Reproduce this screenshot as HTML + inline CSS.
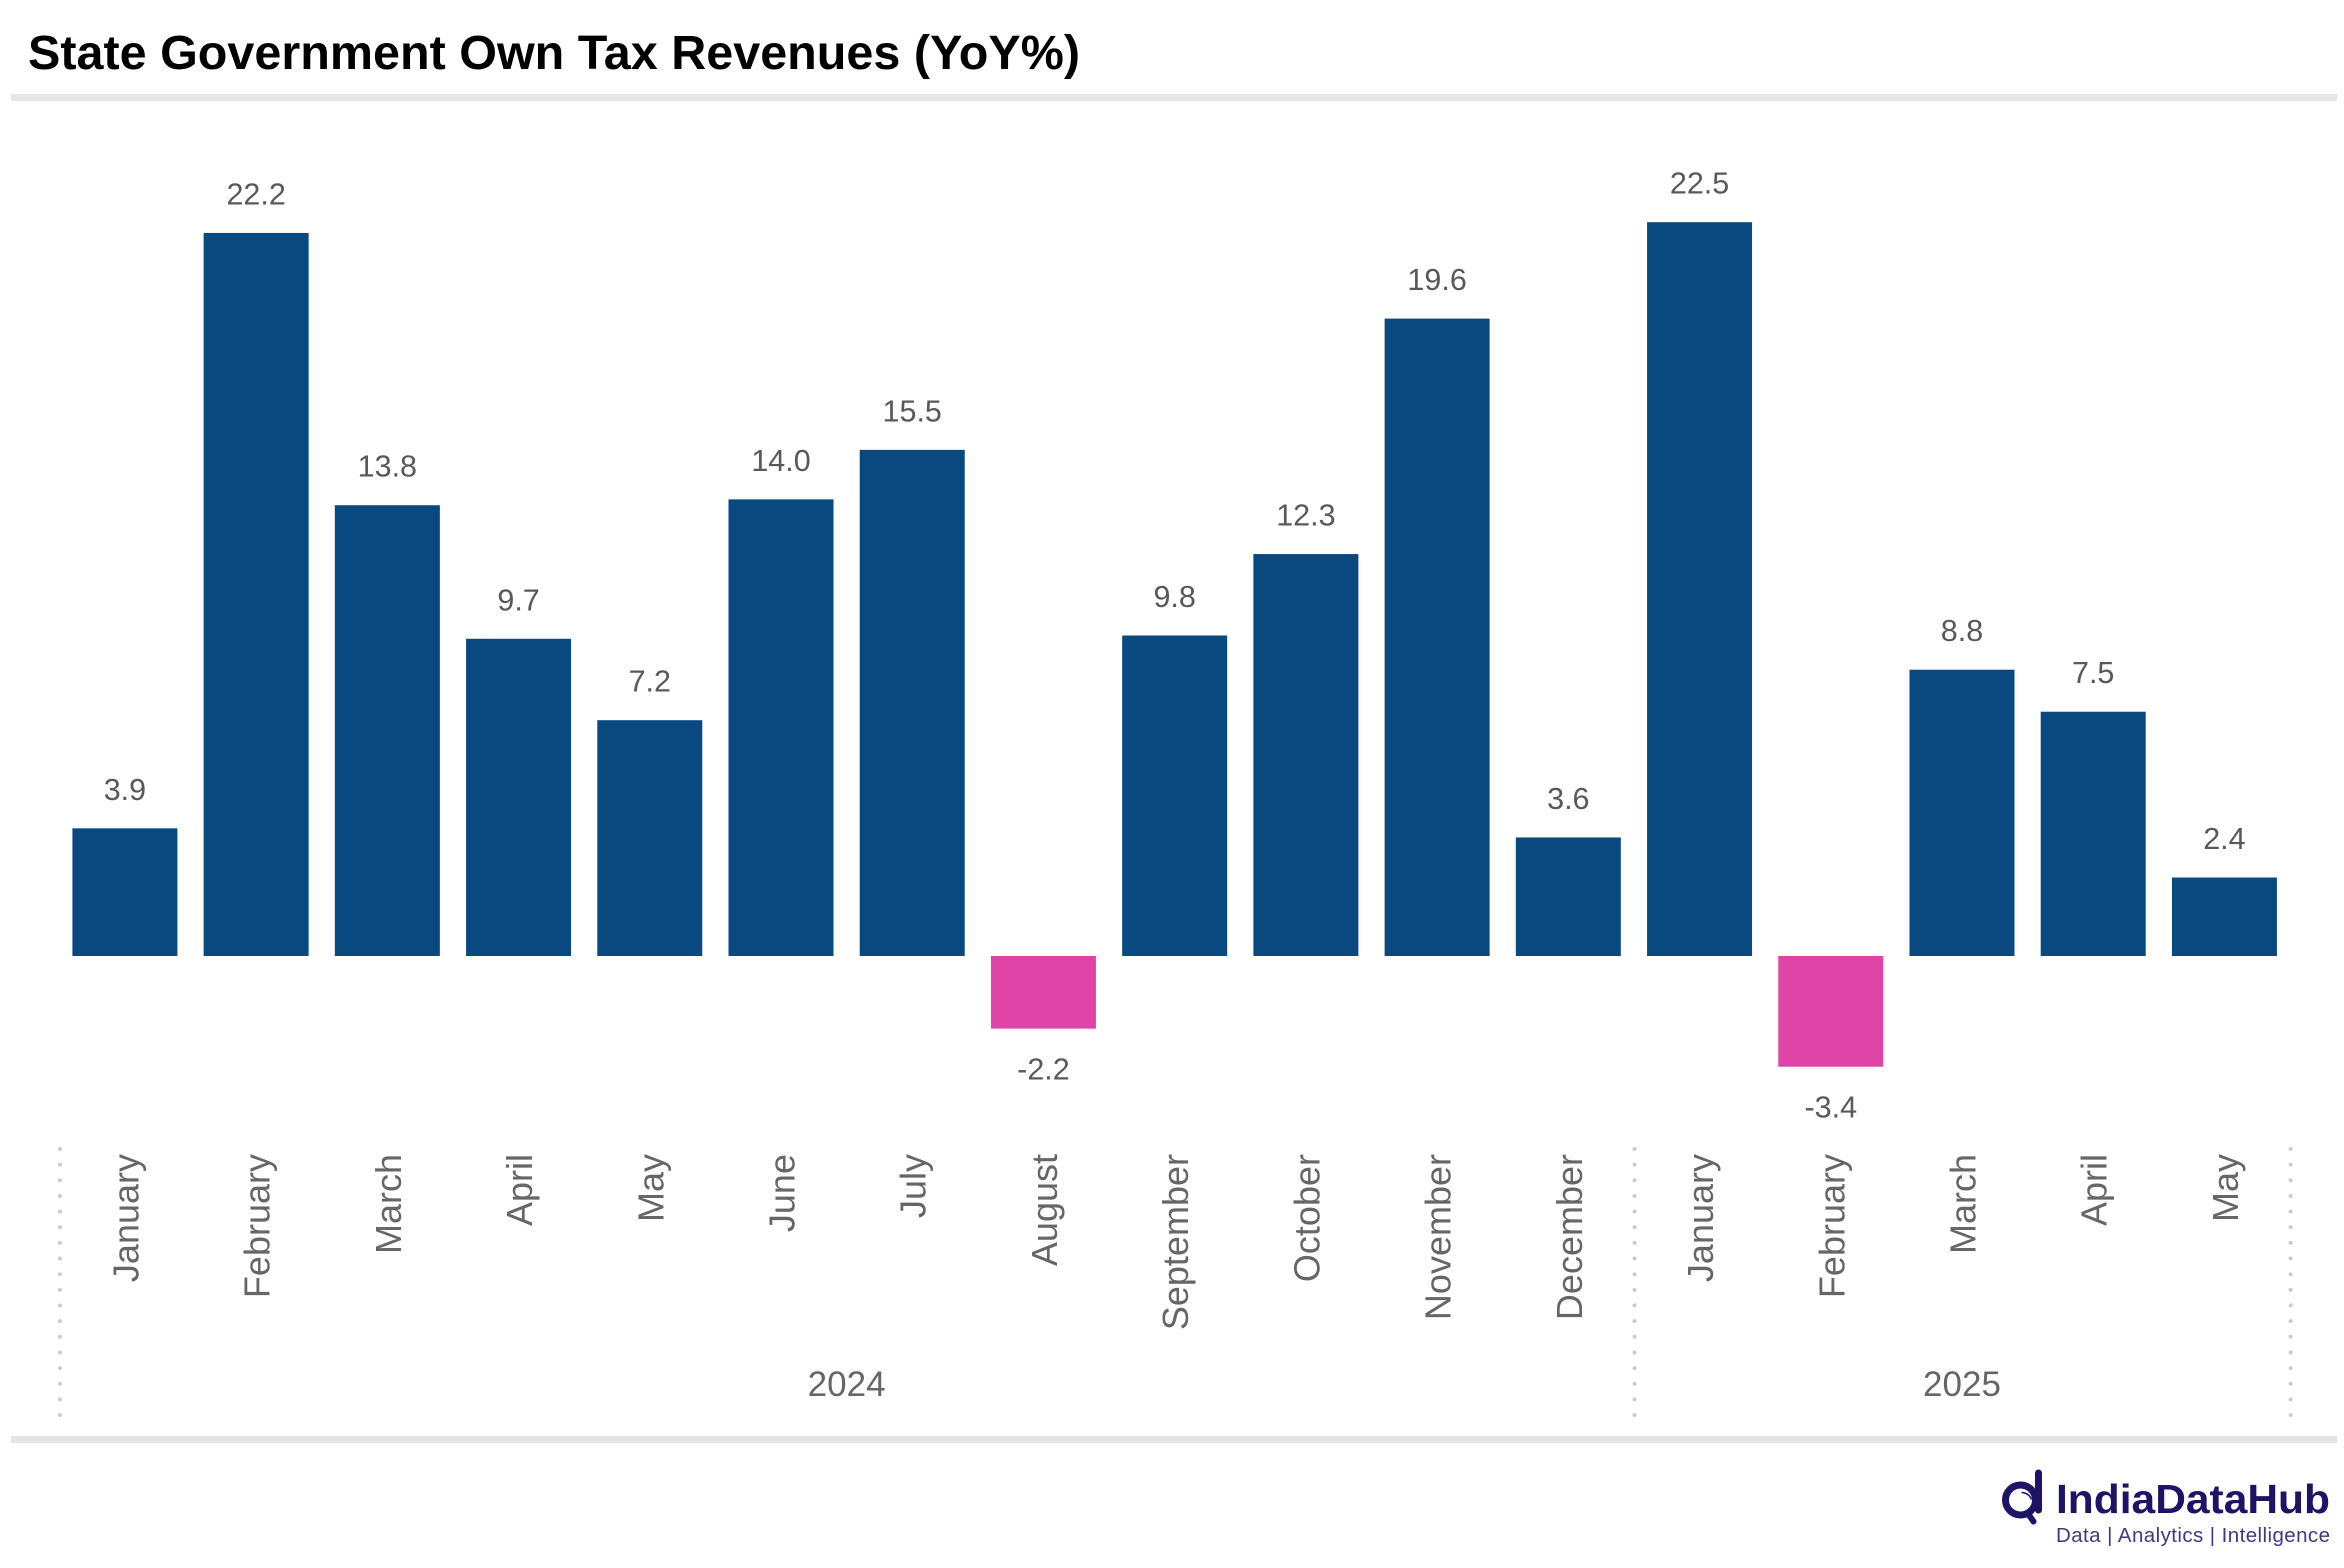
<!DOCTYPE html>
<html lang="en">
<head>
<meta charset="utf-8">
<title>State Government Own Tax Revenues (YoY%)</title>
<style>
  html, body { margin: 0; padding: 0; background: #ffffff; }
  body { width: 2344px; height: 1568px; overflow: hidden; }
  svg { display: block; font-family: "Liberation Sans", sans-serif; }
</style>
</head>
<body>
<svg id="chart" width="2344" height="1568" viewBox="0 0 2344 1568" xmlns="http://www.w3.org/2000/svg">
  <rect x="0" y="0" width="2344" height="1568" fill="#ffffff"/>
  <text x="28" y="69" font-size="48" font-weight="700" fill="#000000" textLength="1052" lengthAdjust="spacingAndGlyphs">State Government Own Tax Revenues (YoY%)</text>
  <rect x="11" y="94" width="2326" height="7" fill="#e5e5e5"/>
  <rect x="11" y="1436" width="2326" height="7" fill="#e5e5e5"/>
  <g id="bars"></g>
  <g id="value-labels"></g>
  <g id="month-labels"></g>
  <g id="year-axis"></g>
  <g>
    <g fill="none" stroke="#1e1466">
      <circle cx="2020.5" cy="1500" r="15" stroke-width="7"/>
      <line x1="2038.5" y1="1473" x2="2038.5" y2="1510" stroke-width="7" stroke-linecap="round"/>
      <line x1="2029" y1="1515" x2="2033.5" y2="1521.5" stroke-width="6" stroke-linecap="round"/>
      <path d="M2021.5 1492.5 Q2029 1493 2031.5 1499.5" stroke-width="1.6"/>
    </g>
    <text x="2056" y="1513" font-size="41" font-weight="700" fill="#1e1466" textLength="274" lengthAdjust="spacingAndGlyphs">IndiaDataHub</text>
    <text x="2056" y="1542" font-size="20.5" fill="#3f3a80" textLength="274" lengthAdjust="spacing">Data | Analytics | Intelligence</text>
  </g>
</svg>
<script>
const months = ['January','February','March','April','May','June','July','August','September','October','November','December','January','February','March','April','May'];
const values = [3.92,22.2,13.84,9.74,7.24,14.02,15.54,-2.23,9.84,12.34,19.57,3.64,22.53,-3.4,8.79,7.5,2.41];
const years = ['2024','2025'];
const yearMonthCounts = [12,5];

const SVG_NS = 'http://www.w3.org/2000/svg';
const plotLeft = 59.3;
const bandWidth = 131.22;
const barWidth = 105;
const zeroY = 956;
const pxPerUnit = 32.57;

function bandStart(i) { return plotLeft + i * bandWidth; }
function xCenter(i) { return bandStart(i) + bandWidth / 2; }
function yScale(v) { return zeroY - v * pxPerUnit; }

function make(tag, attrs, text) {
  const el = document.createElementNS(SVG_NS, tag);
  for (const key in attrs) { el.setAttribute(key, attrs[key]); }
  if (text !== undefined) { el.textContent = text; }
  return el;
}

const barsGroup = document.getElementById('bars');
const valueGroup = document.getElementById('value-labels');
const monthGroup = document.getElementById('month-labels');
const yearGroup = document.getElementById('year-axis');

values.forEach(function (v, i) {
  const top = Math.min(yScale(v), yScale(0));
  const height = Math.abs(yScale(v) - yScale(0));
  const bar = make('rect', {
    x: xCenter(i) - barWidth / 2,
    y: top,
    width: barWidth,
    height: height,
    fill: v < 0 ? '#e044a7' : '#0a4980'
  });
  
  
  barsGroup.appendChild(bar);

  const labelY = v < 0 ? yScale(v) + 51 : yScale(v) - 28.5;
  const label = make('text', {
    x: xCenter(i),
    y: labelY,
    'font-size': 30.5,
    'text-anchor': 'middle',
    fill: '#595959'
  }, v.toFixed(1));
  
  
  valueGroup.appendChild(label);

  const tx = xCenter(i) + 13.5;
  const ty = 1154;
  const month = make('text', {
    x: tx,
    y: ty,
    'font-size': 36,
    'text-anchor': 'end',
    fill: '#666666',
    transform: 'rotate(-90 ' + tx + ' ' + ty + ')'
  }, months[i]);
  
  
  monthGroup.appendChild(month);
});

function drawSeparator(index) {
  const xPos = bandStart(index) + 0.6;
  const sep = make('line', {
    x1: xPos,
    x2: xPos,
    y1: 1149,
    y2: 1416,
    stroke: '#cccccc',
    'stroke-width': 4,
    'stroke-linecap': 'round',
    'stroke-dasharray': '0 15.65'
  });
  
  
  yearGroup.appendChild(sep);
}

let startIndex = 0;
drawSeparator(0);
years.forEach(function (year, k) {
  const count = yearMonthCounts[k];
  const endIndex = startIndex + count;
  drawSeparator(endIndex);
  const yearLabel = make('text', {
    x: (bandStart(startIndex) + bandStart(endIndex)) / 2,
    y: 1396,
    'font-size': 35,
    'text-anchor': 'middle',
    fill: '#666666'
  }, year);
  
  
  yearGroup.appendChild(yearLabel);
  startIndex = endIndex;
});
</script>
</body>
</html>
